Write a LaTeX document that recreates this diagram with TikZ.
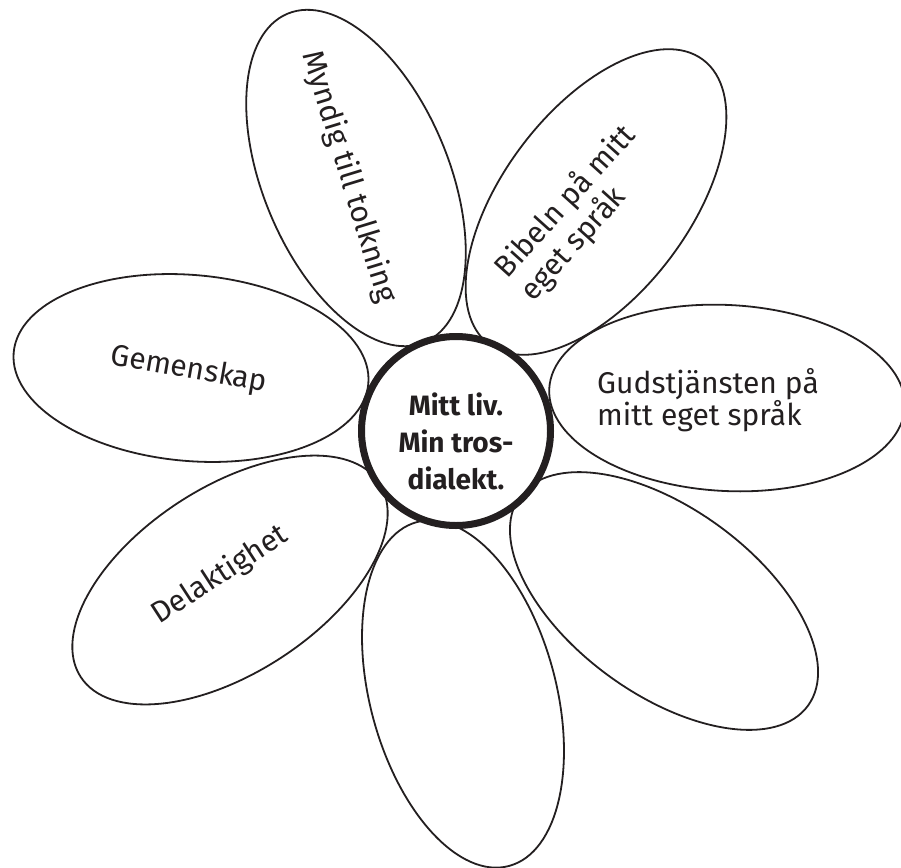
\documentclass[tikz,border=0pt]{standalone}
\usepackage{fontspec}
\setmainfont{Fira Sans}
\usetikzlibrary{shapes.geometric}
\definecolor{ink}{HTML}{231F20}
\begin{document}
\begin{tikzpicture}[x=1pt,y=-1pt,
  petal/.style={ellipse, draw=ink, line width=1.8pt, minimum width=356pt, minimum height=186pt, inner sep=0pt},
  petaltext/.style={text=ink, font=\fontsize{30}{32}\selectfont, align=left, inner sep=0pt},
  hub/.style={circle, draw=ink, fill=white, line width=7pt, minimum size=189pt, inner sep=0pt},
  hubtext/.style={text=ink, font=\bfseries\fontsize{28}{37}\selectfont, align=center, inner sep=0pt}]
\useasboundingbox (0,0) rectangle (901,867);
\node[petal, rotate=112.6] (p1) at (356,178) {};
\node[petal, rotate=53] (p2) at (596,202) {};
\node[petal, rotate=-3] (p3) at (727,398) {};
\node[petal, rotate=-36] (p4) at (664,601) {};
\node[petal, rotate=105] (p5) at (463,694) {};
\node[petal, rotate=33] (p6) at (230,580) {};
\node[petal, rotate=-5] (p7) at (191,368) {};
\node[hub] (hub) at (456,431) {};
\node[hubtext] (ht) at (456,441) {Mitt liv.\\Min tros-\\dialekt.};
\node[petaltext, rotate=-73] (t1) at (349,177) {Myndig till tolkning};
\node[petaltext, rotate=48, font=\fontsize{30}{34}\selectfont] (t2) at (578,213) {Bibeln på mitt\\eget språk};
\node[petaltext] (t3) at (708,400) {Gudstjänsten på\\mitt eget språk};
\node[petaltext, rotate=-10] (t7) at (189,370) {Gemenskap};
\node[petaltext, rotate=33] (t6) at (220,575) {Delaktighet};
\end{tikzpicture}
\end{document}
